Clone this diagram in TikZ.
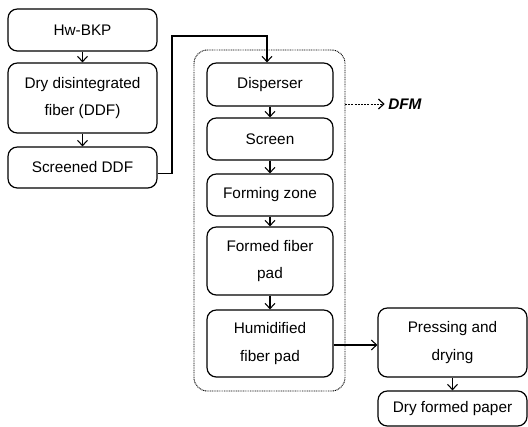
\documentclass[tikz,border=0pt]{standalone}
\usepackage{fontspec}
\setmainfont{Liberation Sans}
\usetikzlibrary{arrows.meta}
\begin{document}
\begin{tikzpicture}[x=0.75pt,y=-0.75pt,
  box/.style={draw=black,line width=0.9pt,rounded corners=7pt,inner sep=0pt,align=center,
    font=\fontsize{11.5}{20.5}\selectfont},
  lbox/.style={box,minimum width=111.75pt},
  mbox/.style={box,minimum width=94.5pt},
  arr/.style={line width=0.8pt,-{Straight Barb[length=4pt,width=7.5pt]}},
  grp/.style={draw=black,line width=0.7pt,dash pattern=on 0.7pt off 0.6pt,rounded corners=10pt},
  dfmarr/.style={line width=0.6pt,dash pattern=on 1.5pt off 0.9pt,-{Straight Barb[length=4pt,width=7.5pt,line width=0.9pt]}}]
\useasboundingbox (0,0) rectangle (528,426);
% container
\draw[grp] (194,50) rectangle (345,391);
\coordinate (grpE) at (345,104);
% left column
\node[lbox,minimum height=31.5pt] (hw) at (82.5,30) {Hw-BKP};
\node[lbox,minimum height=52.5pt] (ddf) at (82.5,98) {Dry disintegrated\\fiber (DDF)};
\node[lbox,minimum height=30.75pt] (scr) at (82.5,167.5) {Screened DDF};
% middle column
\node[mbox,minimum height=32.25pt] (disp) at (270,84.5) {Disperser};
\node[mbox,minimum height=31.5pt] (screen) at (270,139) {Screen};
\node[mbox,minimum height=31.5pt] (form) at (270,195) {Forming zone};
\node[mbox,minimum height=51pt] (pad) at (270,261) {Formed fiber\\pad};
\node[mbox,minimum height=50.25pt] (hum) at (270,343.5) {Humidified\\fiber pad};
% right column
\node[lbox,minimum height=51.75pt] (press) at (452.5,342.5) {Pressing and\\drying};
\node[lbox,minimum height=26.25pt] (paper) at (452.5,408.5) {Dry formed paper};
% DFM label
\node[anchor=west,inner sep=0pt,font=\fontsize{11.5}{14}\selectfont\bfseries\itshape] (dfm) at (388,104) {DFM};
% connectors
\draw[arr] (hw) -- (ddf);
\draw[arr] (ddf) -- (scr);
\coordinate (k1) at (172,36);
\draw[arr] ([yshift=-4.5pt]scr.east) -| (k1) -- ([xshift=-2.25pt]k1 -| disp.north) -- ([xshift=-2.25pt]disp.north);
\draw[arr] (disp) -- (screen);
\draw[arr] (screen) -- (form);
\draw[arr] (form) -- (pad);
\draw[arr] (pad) -- (hum);
\draw[arr] ([yshift=-1.1pt]hum.east) -- ([yshift=-1.1pt]hum.east -| press.west);
\draw[arr] (press) -- (paper);
\draw[dfmarr] (grpE) -- ([xshift=-2.5pt]dfm.west);
\end{tikzpicture}
\end{document}
